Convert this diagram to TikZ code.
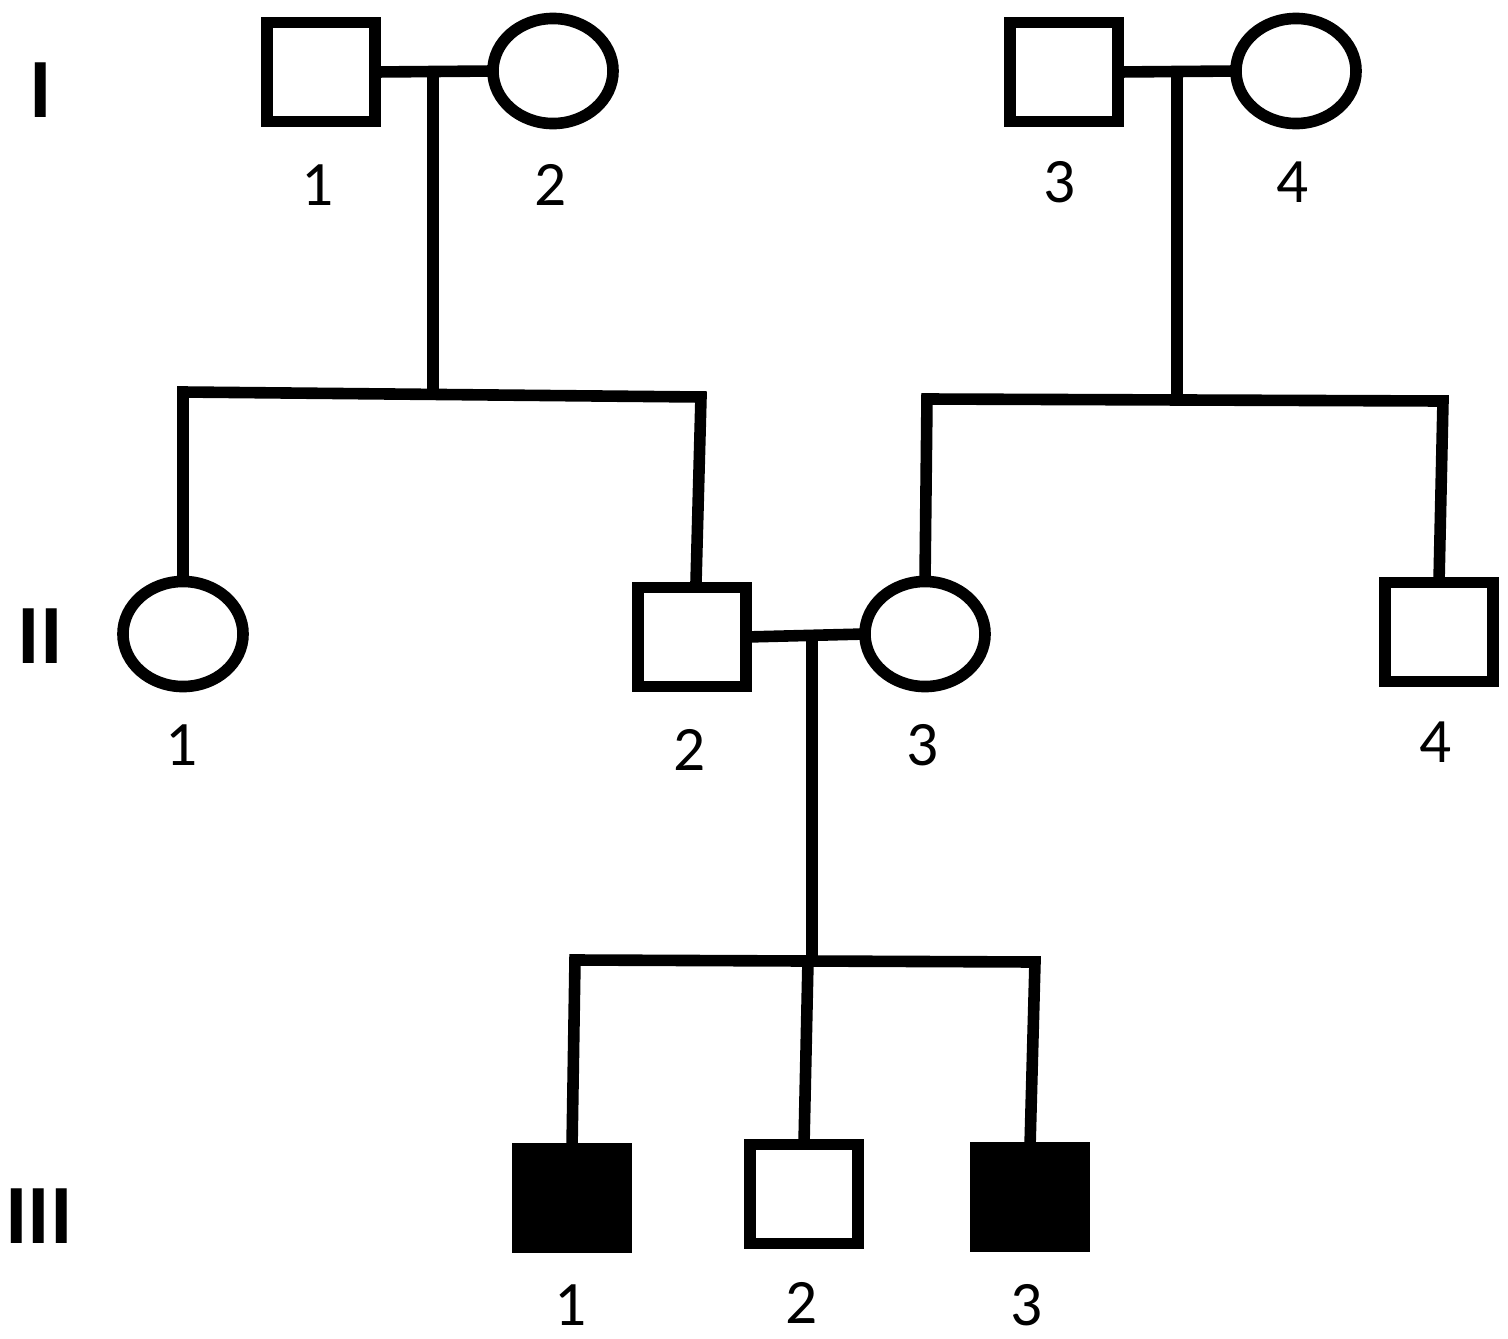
\documentclass[tikz,border=0pt]{standalone}
\usepackage{fontspec}
\setmainfont{Carlito}
\usetikzlibrary{shapes.geometric}
\begin{document}
\begin{tikzpicture}[x=0.01cm,y=-0.01cm,
  male/.style={rectangle,draw,line width=3.3pt,minimum width=1.08cm,minimum height=0.99cm,inner sep=0pt,outer sep=0pt},
  female/.style={ellipse,draw,line width=3.3pt,minimum width=1.2cm,minimum height=1.05cm,inner sep=0pt,outer sep=0pt},
  affected/.style={fill=black},
  num/.style={font=\fontsize{18}{18}\selectfont,inner sep=0pt},
  gen/.style={font=\fontsize{24}{24}\selectfont\bfseries,inner sep=0pt},
  link/.style={line width=3.3pt}]
\useasboundingbox (0,0) rectangle (1508,1339);
% generation labels
\node[gen] (gI) at (41,90) {I};
\node[gen] (gII) at (40,636) {II};
\node[gen] (gIII) at (39,1216) {III};
% generation I
\node[male] (I1) at (321,72) {};
\node[female] (I2) at (553,71) {};
\node[male] (I3) at (1064,72) {};
\node[female] (I4) at (1296,71) {};
% generation II
\node[female] (II1) at (183,634) {};
\node[male] (II2) at (692,637) {};
\node[female] (II3) at (925,634) {};
\node[male] (II4) at (1439,632) {};
% generation III
\node[male,affected] (III1) at (572,1198) {};
\node[male] (III2) at (804,1194) {};
\node[male,affected] (III3) at (1030,1197) {};
% numbers
\node[num] (nI1) at (318,185) {1};
\node[num] (nI2) at (551,185) {2};
\node[num] (nI3) at (1060,182) {3};
\node[num] (nI4) at (1293,182) {4};
\node[num] (nII1) at (182,745) {1};
\node[num] (nII2) at (690,750) {2};
\node[num] (nII3) at (923,745) {3};
\node[num] (nII4) at (1436,742) {4};
\node[num] (nIII1) at (571,1305) {1};
\node[num] (nIII2) at (802,1303) {2};
\node[num] (nIII3) at (1027,1305) {3};
% connector points
\coordinate (m1) at (433,71);
\coordinate (s1) at (433,394);
\coordinate (c11) at (183,392);
\coordinate (c12) at (701,397);
\coordinate (d12) at (696,583);
\coordinate (m2) at (1177,71);
\coordinate (s2) at (1177,399);
\coordinate (c21) at (927,399);
\coordinate (c22) at (1443,401);
\coordinate (m3) at (812,637);
\coordinate (s3) at (812,961);
\coordinate (c31) at (575,960);
\coordinate (c32) at (1035,962);
\coordinate (c33) at (808,961);
% marriages and descents
\draw[link] (I1.east) -- (I2.west);
\draw[link] (m1) -- (s1);
\draw[link] (II1.north) -- (c11) -- (c12) -- (d12);
\draw[link] (I3.east) -- (I4.west);
\draw[link] (m2) -- (s2);
\draw[link] (II3.north) -- (c21) -- (c22) -- (II4.north);
\draw[link] (II2.east) -- (II3.west);
\draw[link] (m3) -- (s3);
\draw[link] (III1.north) -- (c31) -- (c32) -- (III3.north);
\draw[link] (c33) -- (III2.north);
\end{tikzpicture}
\end{document}
